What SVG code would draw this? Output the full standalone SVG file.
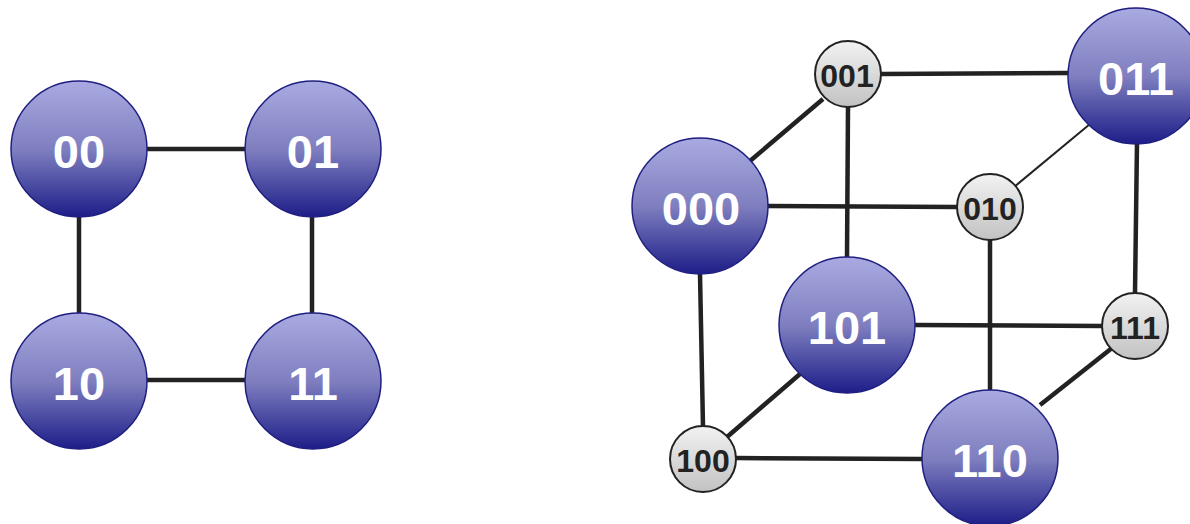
<svg xmlns="http://www.w3.org/2000/svg" width="1190" height="524" viewBox="0 0 1190 524">
  <defs>
    <linearGradient id="blueFill" x1="0" y1="0" x2="0" y2="1">
      <stop offset="0" stop-color="#aaaae2"/>
      <stop offset="0.5" stop-color="#7f7fc0"/>
      <stop offset="1" stop-color="#1d1d88"/>
    </linearGradient>
    <linearGradient id="grayFill" x1="0" y1="0" x2="0" y2="1">
      <stop offset="0" stop-color="#f2f2f2"/>
      <stop offset="1" stop-color="#c2c2c2"/>
    </linearGradient>
  </defs>
  <style>
    .edge { stroke: #222; stroke-width: 4.5; fill: none; }
    .thin { stroke-width: 2; }
    .big { fill: url(#blueFill); stroke: #1f1f80; stroke-width: 1.5; }
    .small { fill: url(#grayFill); stroke: #222; stroke-width: 2; }
    .bigLabel { font-family: "Liberation Sans", Arial, sans-serif; font-weight: bold; font-size: 47px; fill: #fff; text-anchor: middle; dominant-baseline: central; }
    .smallLabel { font-family: "Liberation Sans", Arial, sans-serif; font-weight: bold; font-size: 32px; fill: #222; text-anchor: middle; dominant-baseline: central; }
  </style>

  <!-- connectors -->
  <g id="connectors">
    <!-- 2-cube -->
    <line class="edge" x1="147" y1="149" x2="245" y2="149"/>
    <line class="edge" x1="79" y1="217" x2="79" y2="313"/>
    <line class="edge" x1="312" y1="217" x2="312" y2="313"/>
    <line class="edge" x1="147" y1="380" x2="245" y2="380"/>
    <!-- 3-cube -->
    <line class="edge" x1="750" y1="161" x2="823" y2="99"/>
    <line class="edge" x1="881" y1="74" x2="1068" y2="73"/>
    <line class="edge" x1="768" y1="206" x2="957" y2="207"/>
    <line class="edge" x1="848" y1="107" x2="847" y2="257"/>
    <line class="edge thin" x1="1090" y1="124" x2="1014" y2="187"/>
    <line class="edge" x1="1137" y1="142" x2="1135" y2="293"/>
    <line class="edge" x1="990" y1="240" x2="990" y2="390"/>
    <line class="edge" x1="915" y1="325" x2="1102" y2="326"/>
    <line class="edge" x1="700" y1="274" x2="703" y2="427"/>
    <line class="edge" x1="800" y1="374" x2="727" y2="437"/>
    <line class="edge" x1="736" y1="458" x2="922" y2="459"/>
    <line class="edge" x1="1040" y1="405" x2="1112" y2="348"/>
  </g>

  <!-- 2-cube nodes -->
  <g id="n00"><circle class="big" cx="79" cy="149" r="68"/><text class="bigLabel" x="79" y="151">00</text></g>
  <g id="n01"><circle class="big" cx="313" cy="149" r="68"/><text class="bigLabel" x="313" y="151">01</text></g>
  <g id="n10"><circle class="big" cx="79" cy="381" r="68"/><text class="bigLabel" x="79" y="383">10</text></g>
  <g id="n11"><circle class="big" cx="313" cy="381" r="68"/><text class="bigLabel" x="313" y="383">11</text></g>

  <!-- 3-cube nodes -->
  <g id="n000"><circle class="big" cx="700" cy="206" r="68"/><text class="bigLabel" x="701" y="208">000</text></g>
  <g id="n001"><circle class="small" cx="848" cy="74" r="33"/><text class="smallLabel" x="847" y="76">001</text></g>
  <g id="n011"><circle class="big" cx="1136" cy="76" r="68"/><text class="bigLabel" x="1136" y="78">011</text></g>
  <g id="n010"><circle class="small" cx="990" cy="207" r="33"/><text class="smallLabel" x="990" y="209">010</text></g>
  <g id="n101"><circle class="big" cx="847" cy="325" r="68"/><text class="bigLabel" x="847" y="327">101</text></g>
  <g id="n111"><circle class="small" cx="1135" cy="326" r="33"/><text class="smallLabel" x="1135" y="328">111</text></g>
  <g id="n100"><circle class="small" cx="703" cy="459" r="33"/><text class="smallLabel" x="703" y="461">100</text></g>
  <g id="n110"><circle class="big" cx="990" cy="458" r="68"/><text class="bigLabel" x="990" y="460">110</text></g>
</svg>
